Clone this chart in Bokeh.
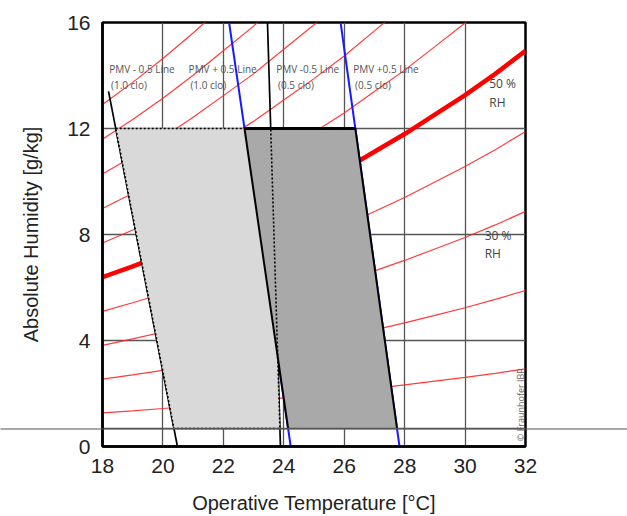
import numpy as np
from bokeh.plotting import figure
from bokeh.models import Range1d, FixedTicker, Label, ColorBar, LinearColorMapper
from bokeh.embed import file_html
from bokeh.resources import INLINE

# ---------------- data ----------------
temperatures = list(range(18, 33))                       # deg C
sat_vapour_hpa = [20.6, 21.9, 23.3, 24.8, 26.4, 28.0, 29.8, 31.6,
                  33.5, 35.6, 37.7, 40.0, 42.3, 44.8, 47.5]  # saturation vapour pressure
air_pressure_hpa = 1013.25
rh_levels = [10, 20, 30, 40, 50, 60, 70, 80, 90, 100]
rh_bold = 50

pmv_names = ["PMV - 0.5 Line", "PMV + 0.5 Line", "PMV -0.5 Line", "PMV +0.5 Line"]
pmv_clo = ["(1.0 clo)", "(1.0 clo)", "(0.5 clo)", "(0.5 clo)"]
pmv_t_upper = [18.2, 22.19, 23.46, 25.88]   # temperature at upper end of line
pmv_h_upper = [13.4, 16.0, 16.0, 16.0]      # humidity at upper end of line
pmv_t_zero = [20.48, 24.23, 23.89, 27.83]   # temperature at 0 g/kg
pmv_colors = ["black", "#1a1aff", "black", "#1a1aff"]

zone_h_low = 0.68
zone_h_high = 12.0

x_ticks = [18, 20, 22, 24, 26, 28, 30, 32]
y_ticks = [0, 4, 8, 12, 16]

# ---------------- figure ----------------
p = figure(width=627, height=516, output_backend="svg", toolbar_location=None,
           x_range=Range1d(18, 32), y_range=Range1d(0, 16),
           min_border_left=102, min_border_right=102,
           min_border_top=22, min_border_bottom=70)
p.background_fill_color = "white"
p.border_fill_color = "white"
p.outline_line_color = "black"
p.outline_line_width = 2.5

for g in (p.xgrid, p.ygrid):
    g.grid_line_color = "#555555"
    g.grid_line_width = 1.3
p.xaxis.ticker = FixedTicker(ticks=x_ticks)
p.yaxis.ticker = FixedTicker(ticks=y_ticks)

for ax in (p.xaxis, p.yaxis):
    ax.axis_line_color = "black"
    ax.axis_line_width = 2.5
    ax.major_tick_line_color = None
    ax.minor_tick_line_color = None
    ax.major_tick_out = 0
    ax.major_tick_in = 0
    ax.major_label_text_font = "Liberation Sans"
    ax.major_label_text_font_size = "21px"
    ax.major_label_text_color = "#222222"
    ax.axis_label_text_font = "Liberation Sans"
    ax.axis_label_text_font_size = "20px"
    ax.axis_label_text_font_style = "normal"
    ax.axis_label_text_color = "#222222"
    ax.major_label_standoff = 12

p.xaxis.axis_label = "Operative Temperature [°C]"
p.yaxis.axis_label = "Absolute Humidity [g/kg]"
p.xaxis.axis_label_standoff = 16
p.yaxis.axis_label_standoff = 22

# ---------------- RH curves ----------------
t_arr = np.array(temperatures, dtype=float)
ps_arr = np.array(sat_vapour_hpa)
for rh in rh_levels:
    pv = rh / 100.0 * ps_arr
    hum = 622.0 * pv / (air_pressure_hpa - pv)
    if rh == rh_bold:
        p.line(t_arr, hum, line_color="#ff0000", line_width=4.5)
    else:
        p.line(t_arr, hum, line_color="#ff2626", line_width=1.2, line_alpha=0.9)

# ---------------- PMV lines ----------------
for tu, hu, tz, c in zip(pmv_t_upper, pmv_h_upper, pmv_t_zero, pmv_colors):
    p.line([tz, tu], [0, hu], line_color=c, line_width=2 if c != "black" else 1.7)


def t_at(i, h):
    return pmv_t_zero[i] + (pmv_t_upper[i] - pmv_t_zero[i]) * h / pmv_h_upper[i]


def zone(i, j):
    xs = [t_at(i, zone_h_high), t_at(j, zone_h_high), t_at(j, zone_h_low), t_at(i, zone_h_low)]
    ys = [zone_h_high, zone_h_high, zone_h_low, zone_h_low]
    return xs, ys


ax_, ay_ = zone(0, 2)   # 1.0 clo zone
bx_, by_ = zone(1, 3)   # 0.5 clo zone

p.patch(ax_, ay_, fill_color="#d9d9d9", line_color=None)
p.patch(bx_, by_, fill_color="#a9a9a9", line_color=None)
p.line(ax_ + [ax_[0]], ay_ + [ay_[0]], line_color="black", line_width=1.6, line_dash="2 2")
p.line(bx_[:3], by_[:3], line_color="black", line_width=2)
p.line([bx_[0], bx_[3]], [by_[0], by_[3]], line_color="black", line_width=2)
p.line(bx_[:2], by_[:2], line_color="black", line_width=3)

# horizontal reference line at the lower humidity limit, inside the frame
p.line([18, 32], [zone_h_low, zone_h_low], line_color="#555555", line_width=1.3)

# its continuation across the whole picture: a 1-px single-colour bar
px_per_unit = (516 - 22 - 70) / 16.0
bar = ColorBar(color_mapper=LinearColorMapper(palette=["#555555"], low=0, high=1),
               orientation="horizontal", width=627, height=1,
               location=(-102, int(round(zone_h_low * px_per_unit)) - 1),
               padding=0, margin=0, ticker=FixedTicker(ticks=[]),
               major_tick_line_color=None, minor_tick_line_color=None,
               bar_line_color=None, border_line_color=None,
               background_fill_color=None, background_fill_alpha=0)
p.add_layout(bar, "center")

# ---------------- texts ----------------
lab_x = [18.22, 20.85, 23.75, 26.3]
for x0, n, c in zip(lab_x, pmv_names, pmv_clo):
    p.add_layout(Label(x=x0, y=14.25, text=n, text_font="Open Sans", text_font_size="10px",
                       text_color="#555555", text_baseline="middle", text_align="left"))
    p.add_layout(Label(x=x0 + 0.06, y=13.65, text=c, text_font="Open Sans", text_font_size="10px",
                       text_color="#555555", text_baseline="middle", text_align="left"))

for y1, y2, t1 in [(13.7, 13.0, "50 %"), (7.95, 7.3, "30 %")]:
    xx = 30.8 if t1 == "50 %" else 30.65
    p.add_layout(Label(x=xx, y=y1, text=t1, text_font="Open Sans", text_font_size="12px",
                       text_color="#444444", text_baseline="middle", text_align="left"))
    p.add_layout(Label(x=xx, y=y2, text="RH", text_font="Open Sans", text_font_size="12px",
                       text_color="#444444", text_baseline="middle", text_align="left"))

p.add_layout(Label(x=31.84, y=0.2, text="© Fraunhofer IBP", angle=np.pi / 2,
                   text_font="Open Sans", text_font_size="9px", text_color="#666666",
                   text_baseline="middle", text_align="left"))

open("out.html", "w").write(file_html(p, INLINE, title="PMV comfort zones"))
